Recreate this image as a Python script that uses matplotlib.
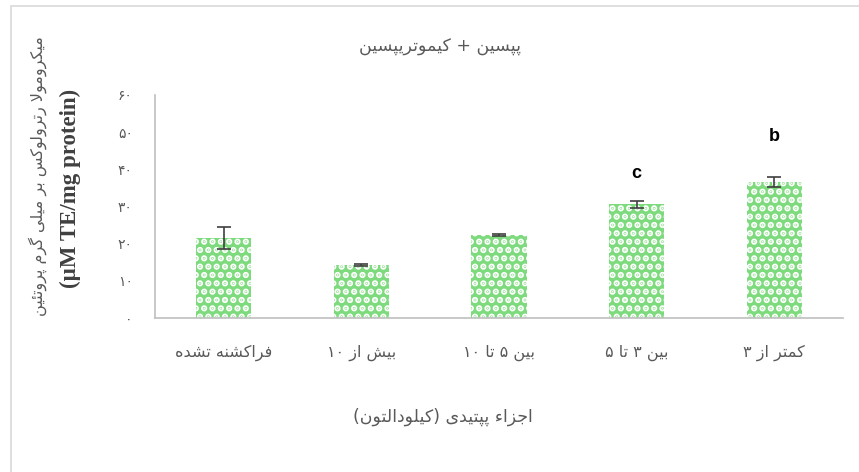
import matplotlib
matplotlib.use("Agg")
import matplotlib.pyplot as plt
from matplotlib.patches import Rectangle

# data
categories = ['فراکشنه تشده', 'بیش از ۱۰', 'بین ۵ تا ۱۰', 'بین ۳ تا ۵', 'کمتر از ۳']
values = [21.5, 14.2, 22.3, 30.6, 36.6]
errors = [3.0, 0.3, 0.3, 1.0, 1.3]
letters = ['', '', '', 'c', 'b']
yticks = [0, 10, 20, 30, 40, 50, 60]

title = 'پپسین + کیموتریپسین'
ylabel_fa = 'میکرومولا رترولوکس بر میلی گرم پروتئین'
ylabel_en = '(µM TE/mg protein)'
xlabel = 'اجزاء پپتیدی (کیلودالتون)'

# minimal arabic shaping: isolated, final, initial, medial
FORMS = {
    'ا': ('\uFE8D', '\uFE8E', None, None),
    'ب': ('\uFE8F', '\uFE90', '\uFE91', '\uFE92'),
    'پ': ('\uFB56', '\uFB57', '\uFB58', '\uFB59'),
    'ت': ('\uFE95', '\uFE96', '\uFE97', '\uFE98'),
    'ج': ('\uFE9D', '\uFE9E', '\uFE9F', '\uFEA0'),
    'د': ('\uFEA9', '\uFEAA', None, None),
    'ر': ('\uFEAD', '\uFEAE', None, None),
    'ز': ('\uFEAF', '\uFEB0', None, None),
    'س': ('\uFEB1', '\uFEB2', '\uFEB3', '\uFEB4'),
    'ش': ('\uFEB5', '\uFEB6', '\uFEB7', '\uFEB8'),
    'ف': ('\uFED1', '\uFED2', '\uFED3', '\uFED4'),
    'ک': ('\uFB8E', '\uFB8F', '\uFB90', '\uFB91'),
    'گ': ('\uFB92', '\uFB93', '\uFB94', '\uFB95'),
    'ل': ('\uFEDD', '\uFEDE', '\uFEDF', '\uFEE0'),
    'م': ('\uFEE1', '\uFEE2', '\uFEE3', '\uFEE4'),
    'ن': ('\uFEE5', '\uFEE6', '\uFEE7', '\uFEE8'),
    'و': ('\uFEED', '\uFEEE', None, None),
    'ه': ('\uFEE9', '\uFEEA', '\uFEEB', '\uFEEC'),
    'ی': ('\uFBFC', '\uFBFD', '\uFBFE', '\uFBFF'),
    'ئ': ('\uFE89', '\uFE8A', '\uFE8B', '\uFE8C'),
}
DIGITS = set('0123456789۰۱۲۳۴۵۶۷۸۹')


def fa(text):
    out = []
    i = 0
    while i < len(text):
        c = text[i]
        if c not in FORMS:
            out.append(c)
            i += 1
            continue
        prev_j = i > 0 and text[i - 1] in FORMS and FORMS[text[i - 1]][2] is not None
        if c == 'ل' and i + 1 < len(text) and text[i + 1] == 'ا':
            out.append('\uFEFC' if prev_j else '\uFEFB')
            i += 2
            continue
        next_j = FORMS[c][2] is not None and i + 1 < len(text) and text[i + 1] in FORMS
        iso, fin, ini, med = FORMS[c]
        if prev_j and next_j:
            out.append(med)
        elif prev_j:
            out.append(fin)
        elif next_j:
            out.append(ini)
        else:
            out.append(iso)
        i += 1
    # visual order: reverse, keep digit runs, mirror brackets
    vis = out[::-1]
    res = []
    run = []
    for ch in vis:
        if ch in DIGITS:
            run.append(ch)
        else:
            res.extend(run[::-1])
            run = []
            res.append({'(': ')', ')': '('}.get(ch, ch))
    res.extend(run[::-1])
    return ''.join(res)


def fa_num(n):
    return str(n).translate(str.maketrans('0123456789', '۰۱۲۳۴۵۶۷۸۹'))


grey = '#595959'
fig = plt.figure(figsize=(8.59, 4.72), dpi=100)
ax = fig.add_axes([155 / 859, 1 - 318 / 472, 688 / 859, 223 / 472])

x = list(range(len(categories)))
plt.rcParams['hatch.linewidth'] = 3.2
ax.bar(x, values, width=0.4, color='#7DDA7D', edgecolor='white', hatch='..', linewidth=0)
ax.errorbar(x, values, yerr=errors, fmt='none', ecolor='#404040', elinewidth=1.2, capsize=5, capthick=1.2)

letter_offset = [0, 0, 0, 7.4, 10.8]
for i, lab in enumerate(letters):
    if lab:
        ax.text(x[i], values[i] + errors[i] + letter_offset[i], lab, ha='center', va='center',
                fontsize=13, fontweight='bold', family='Liberation Sans', color='black')

ax.set_xlim(-0.5, len(categories) - 0.5)
ax.set_ylim(0, 60)
ax.set_yticks(yticks)
ax.set_yticklabels([fa_num(v) for v in yticks], fontsize=10, color=grey, family='DejaVu Sans')
ax.set_xticks(x)
ax.set_xticklabels([fa(c) for c in categories], fontsize=11.5, color=grey, family='DejaVu Sans')
ax.tick_params(axis='y', length=0, pad=16)
ax.tick_params(axis='x', length=0, pad=19)
for s in ['top', 'right']:
    ax.spines[s].set_visible(False)
for s in ['left', 'bottom']:
    ax.spines[s].set_color('#BFBFBF')
    ax.spines[s].set_linewidth(1.2)

fig.text(440 / 859, 1 - 47 / 472, fa(title), ha='center', va='center', fontsize=12.5, color=grey, family='DejaVu Sans')
fig.text(443 / 859, 1 - 417 / 472, fa(xlabel), ha='center', va='center', fontsize=12.5, color=grey, family='DejaVu Sans')
fig.text(38 / 859, 1 - 176 / 472, fa(ylabel_fa), ha='center', va='center', rotation=90,
         fontsize=11.5, color=grey, family='DejaVu Sans')
fig.text(70 / 859, 1 - 188 / 472, ylabel_en, ha='center', va='center', rotation=90,
         fontsize=16.5, fontweight='bold', color='#404040', family='Liberation Serif')

top = 1 - 6 / 472
fig.add_artist(Rectangle((11 / 859, -0.2), 1.2, top + 0.2, transform=fig.transFigure,
                         fill=False, edgecolor='#D9D9D9', linewidth=1.2))

fig.savefig('out.png', dpi=100)
